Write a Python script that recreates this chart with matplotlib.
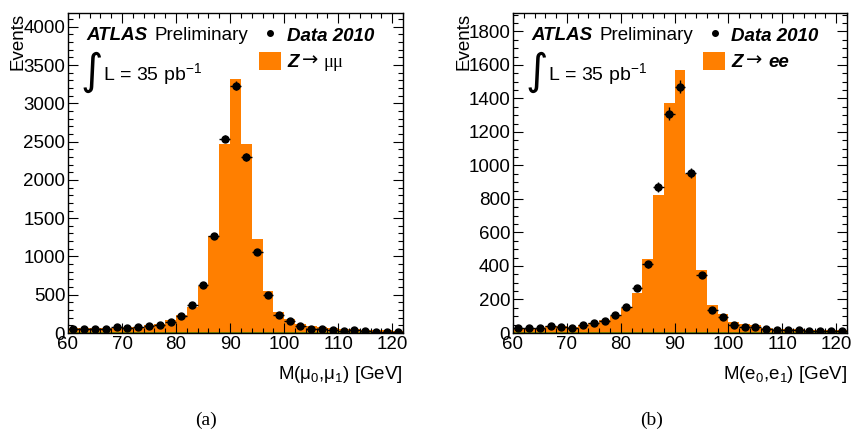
import numpy as np
import matplotlib
matplotlib.use('Agg')
import matplotlib.pyplot as plt
from matplotlib.ticker import MultipleLocator
from matplotlib.patches import Rectangle

plt.rcParams['font.family'] = ['Liberation Sans', 'DejaVu Sans']
plt.rcParams['mathtext.fontset'] = 'custom'
plt.rcParams['mathtext.rm'] = 'Liberation Sans'
plt.rcParams['mathtext.it'] = 'Liberation Sans:italic'

# 2 GeV bins from 60 to 122 GeV
edges = np.arange(60, 124, 2)
centers = edges[:-1] + 1

# Z -> mumu
data_mm = [55, 55, 48, 50, 72, 60, 78, 90, 105, 140, 220, 365, 625, 1270, 2540,
           3230, 2300, 1060, 500, 235, 158, 88, 57, 48, 40, 26, 38, 26, 18, 18, 16]
mc_mm = [45, 45, 45, 50, 55, 60, 70, 85, 105, 150, 215, 330, 600, 1250, 2460,
         3310, 2460, 1210, 530, 260, 170, 105, 75, 60, 45, 38, 32, 28, 24, 20, 18]
bkg_mm = [14, 14, 14, 14, 14, 14, 14, 14, 14, 14, 14, 14, 14, 14, 14,
          14, 14, 14, 14, 14, 14, 14, 14, 14, 14, 14, 14, 14, 14, 14, 14]

# Z -> ee
data_ee = [30, 28, 28, 40, 37, 30, 48, 60, 70, 110, 157, 270, 410, 870, 1310,
           1470, 955, 345, 140, 93, 50, 38, 35, 22, 16, 16, 16, 14, 14, 9, 12]
mc_ee = [25, 25, 25, 35, 35, 30, 40, 55, 70, 95, 145, 235, 435, 820, 1365,
         1565, 945, 370, 160, 105, 58, 45, 40, 25, 20, 18, 16, 14, 12, 10, 10]
bkg_ee = [6, 6, 6, 6, 6, 6, 6, 6, 6, 6, 6, 6, 6, 6, 6,
          6, 6, 6, 6, 6, 6, 6, 6, 6, 6, 6, 6, 6, 6, 6, 6]

orange = '#ff7f00'
olive = '#7f8a00'
fs = 13.5

fig = plt.figure(figsize=(8.54, 4.37), dpi=100)
ax1 = fig.add_axes([68/854, 1-333/437, 335/854, 320/437])
ax2 = fig.add_axes([513/854, 1-333/437, 334/854, 320/437])


def panel(ax, data, mc, bkg, ymax, ymaj, ymin, xlab, sig):
    bkg = np.array(bkg, dtype=float)
    mc = np.array(mc, dtype=float)
    data = np.array(data, dtype=float)
    ax.stairs(bkg + mc, edges, baseline=bkg, fill=True, color=orange, lw=0)
    ax.stairs(bkg, edges, fill=True, color=olive, lw=0)
    ax.errorbar(centers, data, xerr=1, yerr=np.sqrt(data), fmt='o', color='black',
                ms=5, elinewidth=1, capsize=0, zorder=5)
    ax.set_xlim(60, 122)
    ax.set_ylim(0, ymax)
    ax.xaxis.set_major_locator(MultipleLocator(10))
    ax.xaxis.set_minor_locator(MultipleLocator(2))
    ax.yaxis.set_major_locator(MultipleLocator(ymaj))
    ax.yaxis.set_minor_locator(MultipleLocator(ymin))
    ax.set_xticks(np.arange(60, 121, 10))
    ax.tick_params(which='both', direction='in', top=True, right=True, labelsize=fs)
    ax.tick_params(which='major', length=7.5, width=0.8, pad=2)
    ax.tick_params(which='minor', length=3.8, width=0.8)
    for s in ax.spines.values():
        s.set_linewidth(1)

    ax.text(-0.148, 1.0, 'Events', transform=ax.transAxes, rotation=90,
            ha='center', va='top', fontsize=fs)
    ax.text(1.0, -0.13, xlab, transform=ax.transAxes, ha='right', va='center',
            fontsize=fs)

    ax.text(0.054, 0.916, 'ATLAS', transform=ax.transAxes, fontsize=fs,
            fontweight='bold', fontstyle='italic', va='baseline')
    ax.text(0.258, 0.916, 'Preliminary', transform=ax.transAxes, fontsize=fs,
            va='baseline')
    ax.text(0.036, 0.815, '\u222b', transform=ax.transAxes, fontsize=31,
            family=['DejaVu Sans'], va='center')
    ax.text(0.104, 0.79, 'L = 35 pb$^{-1}$', transform=ax.transAxes, fontsize=14,
            va='baseline')

    ax.plot([0.604], [0.9375], 'o', color='black', ms=4, transform=ax.transAxes)
    ax.text(0.654, 0.912, 'Data 2010', transform=ax.transAxes, fontsize=fs,
            fontweight='bold', fontstyle='italic', va='baseline')
    ax.add_patch(Rectangle((0.570, 0.822), 0.066, 0.056, transform=ax.transAxes,
                           color=orange, lw=0))
    ax.text(0.654, 0.83, 'Z', transform=ax.transAxes, fontsize=fs,
            fontweight='bold', fontstyle='italic', va='baseline')
    ax.text(0.697, 0.835, '\u2192', transform=ax.transAxes, fontsize=14,
            family=['DejaVu Sans'], va='baseline')
    if sig == 'mm':
        ax.text(0.762, 0.83, '\u03bc\u03bc', transform=ax.transAxes, fontsize=fs,
                family=['Liberation Serif', 'DejaVu Sans'], va='baseline')
    else:
        ax.text(0.766, 0.83, 'ee', transform=ax.transAxes, fontsize=fs,
                fontweight='bold', fontstyle='italic', va='baseline')


panel(ax1, data_mm, mc_mm, bkg_mm, 4180, 500, 100,
      'M(\u03bc$_0$,\u03bc$_1$) [GeV]', 'mm')
panel(ax2, data_ee, mc_ee, bkg_ee, 1910, 200, 50,
      'M(e$_0$,e$_1$) [GeV]', 'ee')

fig.text(206/854, 1-420/437, '(a)', family='Liberation Serif', fontsize=14,
         ha='center', va='center')
fig.text(652/854, 1-420/437, '(b)', family='Liberation Serif', fontsize=14,
         ha='center', va='center')

fig.savefig('out.png', dpi=100)
